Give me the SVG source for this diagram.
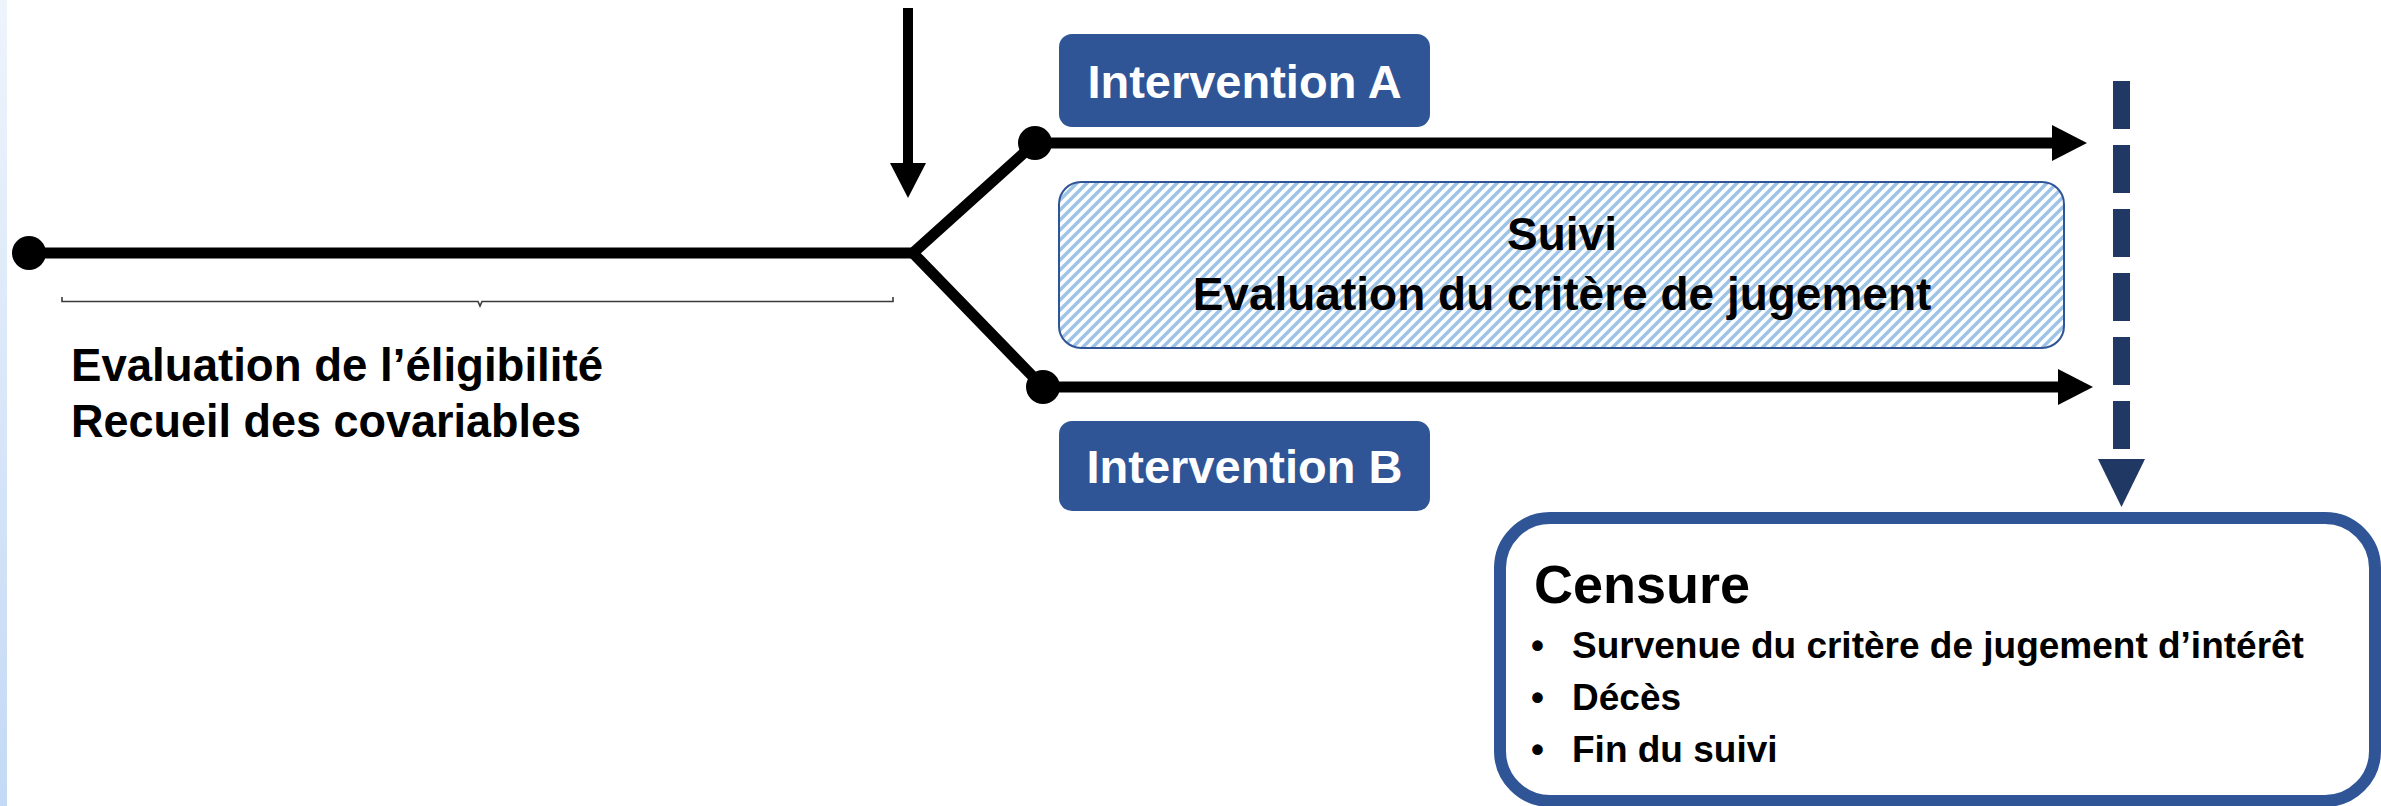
<svg xmlns="http://www.w3.org/2000/svg" width="2381" height="806" viewBox="0 0 2381 806">
  <defs>
    <linearGradient id="strip" x1="0" y1="0" x2="0" y2="1">
      <stop offset="0" stop-color="#EEF4FC"/>
      <stop offset="1" stop-color="#C3D9F5"/>
    </linearGradient>
    <pattern id="hatch" width="10" height="10" patternUnits="userSpaceOnUse">
      <rect width="10" height="10" fill="#FFFFFF"/>
      <path d="M-3,3 L3,-3 M0,10 L10,0 M7,13 L13,7" stroke="#9DC3E6" stroke-width="3.4"/>
    </pattern>
    <style>
      .t { font-family: "Liberation Sans", Arial, sans-serif; font-weight: bold; }
      .blk { stroke: #000000; fill: none; }
      .navy { fill: #1F3864; }
      .tag { fill: #2F5597; }
      .tagtxt { fill: #FFFFFF; font-size: 47px; text-anchor: middle; }
    </style>
  </defs>

  <rect width="2381" height="806" fill="#FFFFFF"/>
  <rect x="0" y="0" width="7" height="806" fill="url(#strip)"/>

  <g id="connectors">
    <line class="blk" x1="29" y1="253" x2="913" y2="253" stroke-width="11"/>
    <polyline class="blk" points="1035,143 913,253 1043,387" stroke-width="11" stroke-linejoin="miter"/>
    <circle cx="29" cy="253" r="17" fill="#000"/>
    <circle cx="1035" cy="143" r="17" fill="#000"/>
    <circle cx="1043" cy="387" r="17" fill="#000"/>
    <line class="blk" x1="1035" y1="143" x2="2055" y2="143" stroke-width="11"/>
    <polygon points="2052,125 2087,143 2052,161" fill="#000"/>
    <line class="blk" x1="1043" y1="387" x2="2061" y2="387" stroke-width="11"/>
    <polygon points="2058,369 2093,387 2058,405" fill="#000"/>
    <line class="blk" x1="908" y1="8" x2="908" y2="165" stroke-width="10"/>
    <polygon points="890,163 926,163 908,198" fill="#000"/>
    <line x1="2121.5" y1="81" x2="2121.5" y2="449" stroke="#1F3864" stroke-width="17" stroke-dasharray="48 16"/>
    <polygon class="navy" points="2098,459 2145,459 2121.5,507"/>
    <path d="M62,297 L62,301.5 L478,301.5 L480,306 L482,301.5 L893,301.5 L893,297" fill="none" stroke="#3A3A3A" stroke-width="1.6"/>
  </g>

  <g id="eligibilite">
    <text class="t" x="71" y="381" font-size="46" fill="#000" textLength="532" lengthAdjust="spacingAndGlyphs">Evaluation de l’éligibilité</text>
    <text class="t" x="71" y="437" font-size="46" fill="#000" textLength="510" lengthAdjust="spacingAndGlyphs">Recueil des covariables</text>
  </g>

  <g id="interventionA">
    <rect class="tag" x="1059" y="34" width="371" height="93" rx="13"/>
    <text class="t tagtxt" x="1244.5" y="98">Intervention A</text>
  </g>

  <g id="suivi">
    <rect x="1059" y="182" width="1005" height="166" rx="22" fill="url(#hatch)" stroke="#2F5597" stroke-width="2"/>
    <text class="t" x="1562" y="250" font-size="46" text-anchor="middle" fill="#000">Suivi</text>
    <text class="t" x="1562" y="310" font-size="46" text-anchor="middle" fill="#000">Evaluation du critère de jugement</text>
  </g>

  <g id="interventionB">
    <rect class="tag" x="1059" y="421" width="371" height="90" rx="13"/>
    <text class="t tagtxt" x="1244.5" y="483">Intervention B</text>
  </g>

  <g id="censure">
    <rect x="1500" y="518" width="875" height="283" rx="50" fill="#FFFFFF" stroke="#2F5597" stroke-width="12"/>
    <text class="t" x="1534" y="603" font-size="54" fill="#000">Censure</text>
    <text class="t" font-size="37" fill="#000">
      <tspan x="1531" y="658">•</tspan><tspan x="1572" y="658">Survenue du critère de jugement d’intérêt</tspan>
      <tspan x="1531" y="710">•</tspan><tspan x="1572" y="710">Décès</tspan>
      <tspan x="1531" y="762">•</tspan><tspan x="1572" y="762">Fin du suivi</tspan>
    </text>
  </g>
</svg>
